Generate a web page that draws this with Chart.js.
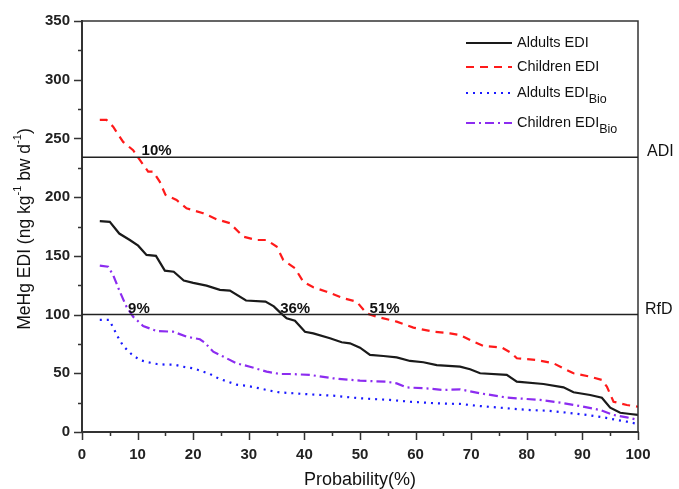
<!DOCTYPE html>
<html>
<head>
<meta charset="utf-8">
<script src="https://cdn.jsdelivr.net/npm/chart.js@4/dist/chart.umd.min.js"></script>
<style>
html,body{margin:0;padding:0;background:#fff;}
canvas{display:block;}
</style>
</head>
<body>
<canvas id="c" width="679" height="489"></canvas>
<script>
// ---- Data ----
const adultsEdiX = [3.2,5,6.7,8.6,10.1,11.6,13.3,14.9,16.5,18.3,20,22.4,24.8,26.6,29.5,33,34.5,35.8,36.8,38.3,40.1,41.6,44.6,46.7,48.2,50,51.8,54.2,56.6,59,61.4,63.8,68,69.8,71.6,76.4,78.2,83,86.6,88.4,91.4,93.5,95,96.8,98.6,100];
const adultsEdiY = [179.5,179,169,163.5,158.7,150.8,150,137.4,136.5,129,127,124.6,121,120.4,112,111,107,101,96.8,94.8,85.4,84,79.8,76.4,75.5,71.8,65.6,64.7,63.6,60.5,59.4,57,55.6,53.4,50,48.6,42.9,40.9,38,33.8,31.5,29.2,20.7,16.4,15.3,14.5];

const childrenEdiX = [3.2,4.4,5.6,7.4,9.2,10.4,11.9,12.8,14,15,17,18.8,21.8,24.2,26.6,29,31.4,33.2,35,36.2,38.3,39.8,41.6,44,47,49.4,51.2,53,56.6,59.6,63.2,66.2,68,70.4,72.2,75.5,77.3,78.2,81.8,84.8,87.2,88.4,91.4,93.5,94.4,95.6,98,100];
const childrenEdiY = [265.8,265.8,260,247,240,231.7,221.7,221.7,213,202,197.6,190.5,186.3,181.2,177.8,166.4,163.5,163.5,158,146.5,139.4,128,123.2,119.5,113.9,111,101,98.2,94,88.9,85.4,84,82.6,76.9,73.3,72,67,62.8,61.3,58.5,52.8,50,47.1,44.3,38.6,25.8,23,21.5];

const adultsBioX = [3.2,4.9,6.5,7.4,8.9,10.4,11.9,13.5,15.2,16.7,18.2,20,21.3,23,24.5,26,27.8,29.6,32,33.8,35.5,39.8,45.2,50,55.4,59,63.8,68,71.6,76.4,80.6,83.6,87.2,90.8,93.8,96.2,98,100];
const adultsBioY = [95.4,95.4,80.6,73.3,66.2,61.3,59.4,57.9,57.3,57.3,55.6,54.2,52.2,49.4,45.7,43.2,40.3,39.4,37.1,35.2,33.8,32.4,30.9,28.7,27.3,25.8,24.4,23.9,22.1,20.2,18.7,18.2,16.5,14.5,12.5,10.2,8.8,6.8];

const childrenBioX = [3.2,4.7,5.6,6.8,8,9.2,11,13.4,16.4,18.8,21.2,22.1,23.6,26,27.8,30.2,33.2,35.6,37.4,41,45.2,50,54.8,56.6,58.4,62,65,68,71.6,76.4,82.4,86,89.6,93.2,95.6,98,100];
const childrenBioY = [141.7,140.8,133.7,119.5,106.7,98.2,90.3,86,85.4,81.2,79,76,68.4,62.8,58.5,55.6,51.4,49.4,49.4,48.6,45.7,43.7,42.8,41.4,38,37.1,35.8,36.3,33,29.3,27.3,25,22.1,18.7,14.5,12.5,10.2];

const seriesNames = ['Aldults EDI','Children EDI','Aldults EDI','Children EDI'];
const seriesSubs = ['','','Bio','Bio'];

const refLevels = [234, 100];
const refLabels = ['ADI', 'RfD'];

const annoX = [10, 9, 36, 51];
const annoY = [234, 100, 100, 100];
const annoText = ['10%', '9%', '36%', '51%'];

const xTickValues = [0,10,20,30,40,50,60,70,80,90,100];
const yTickValues = [0,50,100,150,200,250,300,350];

// ---- Build datasets ----
function pts(xs, ys){ return xs.map((x,i)=>({x:x, y:ys[i]})); }

const styles = [
  {color:'#1a1a1a', dash:[]},
  {color:'#ff1a1a', dash:[8,6]},
  {color:'#1a1aff', dash:[2,5]},
  {color:'#8c2cf0', dash:[9,4,2,4]}
];
const xsAll = [adultsEdiX, childrenEdiX, adultsBioX, childrenBioX];
const ysAll = [adultsEdiY, childrenEdiY, adultsBioY, childrenBioY];

const datasets = xsAll.map((xs,i)=>({
  label: seriesNames[i] + seriesSubs[i],
  data: pts(xs, ysAll[i]),
  borderColor: styles[i].color,
  borderDash: styles[i].dash,
  borderWidth: 2.2,
  pointRadius: 0,
  tension: 0,
  fill: false
}));

const FONT = "'Liberation Sans', Arial, sans-serif";
const annoDx = [4, -4, -2, 4];

const decor = {
  id: 'decor',
  afterDraw(chart){
    const ctx = chart.ctx;
    const xs = chart.scales.x, ys = chart.scales.y;
    const ca = chart.chartArea;
    ctx.save();
    // box top & right
    ctx.strokeStyle = '#333';
    ctx.lineWidth = 1.5;
    ctx.beginPath();
    ctx.moveTo(ca.left, ca.top); ctx.lineTo(ca.right, ca.top); ctx.lineTo(ca.right, ca.bottom);
    ctx.stroke();

    // ticks
    ctx.strokeStyle = '#333';
    ctx.lineWidth = 1.5;
    ctx.beginPath();
    for (let v = 0; v <= 350; v += 25){
      const y = Math.round(ys.getPixelForValue(v)) + 0.5;
      const len = (v % 50 === 0) ? 8 : 4;
      ctx.moveTo(ca.left - len, y); ctx.lineTo(ca.left, y);
    }
    for (let v = 0; v <= 100; v += 5){
      const x = Math.round(xs.getPixelForValue(v)) + 0.5;
      const len = (v % 10 === 0) ? 8 : 4;
      ctx.moveTo(x, ca.bottom); ctx.lineTo(x, ca.bottom + len);
    }
    ctx.stroke();

    // reference lines
    ctx.strokeStyle = '#222';
    ctx.lineWidth = 1.5;
    refLevels.forEach((lv, i) => {
      const y = ys.getPixelForValue(lv);
      ctx.beginPath(); ctx.moveTo(ca.left, y); ctx.lineTo(ca.right, y); ctx.stroke();
      ctx.fillStyle = '#111';
      ctx.font = '16px ' + FONT;
      ctx.textAlign = 'left'; ctx.textBaseline = 'alphabetic';
      ctx.fillText(refLabels[i], ca.right + (i===0 ? 9 : 7), y - 1);
    });

    // annotations
    ctx.fillStyle = '#111';
    ctx.font = 'bold 15px ' + FONT;
    ctx.textAlign = 'left'; ctx.textBaseline = 'alphabetic';
    annoText.forEach((t, i) => {
      const x = xs.getPixelForValue(annoX[i]);
      const y = ys.getPixelForValue(annoY[i]);
      ctx.fillText(t, x + annoDx[i], y - 2);
    });

    // legend
    const lx0 = 466, lx1 = 512, tx = 517;
    const rowY = [43, 67, 93, 123];
    datasets.forEach((ds, i) => {
      ctx.strokeStyle = ds.borderColor;
      ctx.lineWidth = 2;
      ctx.setLineDash(ds.borderDash);
      ctx.beginPath(); ctx.moveTo(lx0, rowY[i]); ctx.lineTo(lx1, rowY[i]); ctx.stroke();
      ctx.setLineDash([]);
      ctx.fillStyle = '#111';
      ctx.font = '14.5px ' + FONT;
      ctx.textBaseline = 'middle';
      ctx.fillText(seriesNames[i], tx, rowY[i]);
      if (seriesSubs[i]){
        const w = ctx.measureText(seriesNames[i]).width;
        ctx.font = '12.5px ' + FONT;
        ctx.fillText(seriesSubs[i], tx + w, rowY[i] + 7);
      }
    });

    // y title with superscripts
    ctx.translate(25, 229);
    ctx.rotate(-Math.PI/2);
    const parts = [
      {t:'MeHg EDI (ng kg', sup:false},
      {t:'-1', sup:true},
      {t:' bw d', sup:false},
      {t:'-1', sup:true},
      {t:')', sup:false}
    ];
    const mainF = '17.5px ' + FONT, supF = '11px ' + FONT;
    let total = 0;
    parts.forEach(p => { ctx.font = p.sup ? supF : mainF; p.w = ctx.measureText(p.t).width; total += p.w; });
    let cx = -total/2;
    ctx.fillStyle = '#111';
    ctx.textBaseline = 'middle';
    ctx.textAlign = 'left';
    parts.forEach(p => {
      ctx.font = p.sup ? supF : mainF;
      ctx.fillText(p.t, cx, p.sup ? -7 : 0);
      cx += p.w;
    });
    ctx.restore();
  }
};

new Chart(document.getElementById('c'), {
  type: 'line',
  data: { datasets: datasets },
  options: {
    responsive: false,
    animation: false,
    devicePixelRatio: 1,
    layout: { padding: { top: 21, right: 41, left: 0, bottom: 0 } },
    plugins: { legend: { display: false }, tooltip: { enabled: false } },
    scales: {
      x: {
        type: 'linear', min: 0, max: 100,
        afterBuildTicks(s){ s.ticks = xTickValues.map(v => ({value: v})); },
        afterFit(s){ s.height = 57; },
        ticks: { color: '#222', font: { family: FONT, size: 15, weight: 'bold' }, padding: 6, maxRotation: 0 },
        grid: { drawOnChartArea: false, drawTicks: true, tickLength: 8, tickColor: 'rgba(0,0,0,0)' },
        border: { display: true, color: '#333', width: 2 },
        title: { display: true, text: 'Probability(%)', color: '#111', font: { family: FONT, size: 18, lineHeight: 1 }, padding: { top: 0, bottom: 0 } }
      },
      y: {
        type: 'linear', min: 0, max: 350,
        afterBuildTicks(s){ s.ticks = yTickValues.map(v => ({value: v})); },
        afterFit(s){ s.width = 82; },
        ticks: { color: '#222', font: { family: FONT, size: 15, weight: 'bold' }, padding: 4 },
        grid: { drawOnChartArea: false, drawTicks: true, tickLength: 8, tickColor: 'rgba(0,0,0,0)' },
        border: { display: true, color: '#333', width: 2 }
      }
    }
  },
  plugins: [decor]
});
</script>
</body>
</html>
